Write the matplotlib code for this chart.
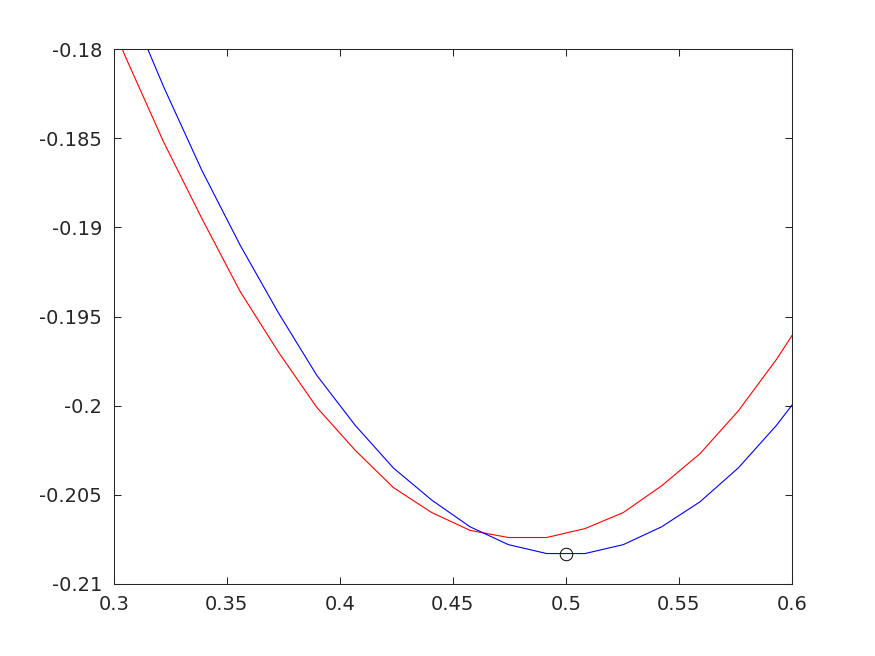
import numpy as np
import matplotlib
matplotlib.use("Agg")
import matplotlib.pyplot as plt

# grid index k -> x = k/59 (samples of linspace(0, 1, 60))
k_red = np.arange(17, 37)
red_y = [-0.1752, -0.1804, -0.1852, -0.1895, -0.1936, -0.1970, -0.2001,
         -0.2025, -0.2046, -0.2060, -0.2070, -0.2074, -0.2074, -0.2069,
         -0.2060, -0.2045, -0.2027, -0.2003, -0.1974, -0.1941]

k_blue = np.arange(18, 37)
blue_y = [-0.1770, -0.1821, -0.1868, -0.1910, -0.1948, -0.1983, -0.2011,
          -0.2035, -0.2053, -0.2068, -0.2078, -0.2083, -0.2083, -0.2078,
          -0.2068, -0.2054, -0.2035, -0.2011, -0.1983]

marker_x = [0.5]
marker_y = [-0.20833]

xticks = [0.3, 0.35, 0.4, 0.45, 0.5, 0.55, 0.6]
yticks = [-0.21, -0.205, -0.2, -0.195, -0.19, -0.185, -0.18]

red_x = k_red / 59
blue_x = k_blue / 59

fig = plt.figure(figsize=(8.75, 6.56), dpi=100)
ax = fig.add_axes([0.13, 0.11, 0.775, 0.815])

ax.plot(red_x, red_y, color='r', lw=0.8)
ax.plot(blue_x, blue_y, color='b', lw=0.8)
ax.plot(marker_x, marker_y, 'o', mfc='none', mec='k', ms=9, mew=0.7)

ax.set_xlim(0.3, 0.6)
ax.set_ylim(-0.21, -0.18)
ax.set_xticks(xticks)
ax.set_xticklabels(['0.3', '0.35', '0.4', '0.45', '0.5', '0.55', '0.6'])
ax.set_yticks(yticks)
ax.set_yticklabels(['-0.21', '-0.205', '-0.2', '-0.195', '-0.19', '-0.185', '-0.18'])

dark = (0.15, 0.15, 0.15)
for s in ax.spines.values():
    s.set_color(dark)
    s.set_linewidth(0.75)
ax.tick_params(direction='in', length=4.8, width=0.75, color=dark,
               labelcolor=dark, labelsize=14, top=True, right=True)
ax.tick_params(axis='x', pad=8)
ax.tick_params(axis='y', pad=8.5)

fig.savefig("out.png", dpi=100)
